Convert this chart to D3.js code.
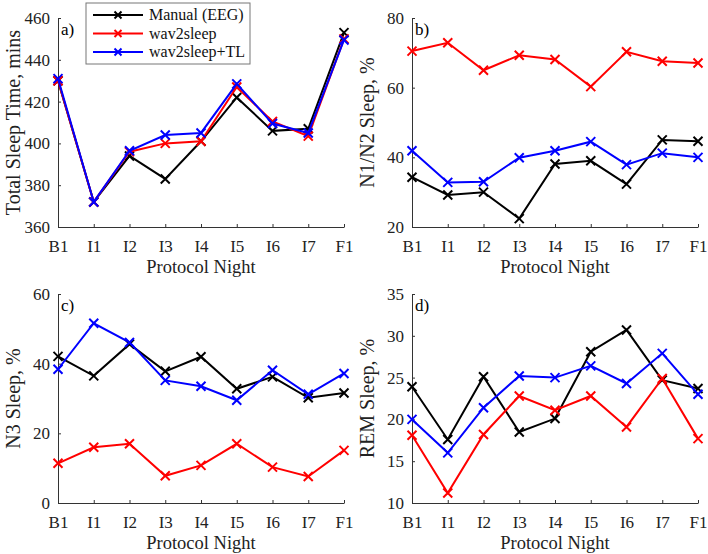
<!DOCTYPE html>
<html>
<head>
<meta charset="utf-8">
<script src="https://cdn.jsdelivr.net/npm/d3@7.9.0/dist/d3.min.js"></script>
<style>
  body { margin: 0; background: #fff; }
  svg { display: block; font-family: "Liberation Serif", "Times New Roman", serif; }
</style>
</head>
<body>
<svg id="chart" width="708" height="554"></svg>
<script>
// protocol nights (x categories)
const nights = ['B1', 'I1', 'I2', 'I3', 'I4', 'I5', 'I6', 'I7', 'F1'];

const seriesNames = ['Manual (EEG)', 'wav2sleep', 'wav2sleep+TL'];
const seriesColors = ['#000000', '#ff0000', '#0000ff'];

// a) total sleep time, mins
const tstManual = [430, 372, 394, 383, 401, 422, 406, 407, 453];
const tstW2S = [430, 372, 396, 400, 401, 427, 410.5, 403.5, 450];
const tstTL = [431, 372, 396.5, 404, 405, 428.5, 409.5, 405, 449.5];

// b) N1/N2 sleep, %
const n12Manual = [34.3, 29.2, 30.0, 22.4, 38.1, 39.0, 32.3, 45.0, 44.6];
const n12W2S = [70.5, 72.9, 65.0, 69.3, 68.1, 60.3, 70.3, 67.6, 67.1];
const n12TL = [41.9, 32.8, 33.0, 39.9, 41.9, 44.5, 37.9, 41.2, 40.0];

// c) N3 sleep, %
const n3Manual = [42.1, 36.5, 45.6, 37.8, 42.0, 32.8, 36.2, 30.2, 31.6];
const n3W2S = [11.4, 16.0, 17.0, 7.8, 10.8, 17.0, 10.3, 7.6, 15.1];
const n3TL = [38.4, 51.6, 46.1, 35.2, 33.5, 29.5, 38.1, 31.2, 37.2];

// d) REM sleep, %
const remManual = [23.9, 17.6, 25.1, 18.5, 20.1, 28.1, 30.7, 24.7, 23.7];
const remW2S = [18.1, 11.2, 18.2, 22.8, 21.1, 22.8, 19.1, 24.9, 17.7];
const remTL = [20.0, 16.0, 21.4, 25.2, 25.0, 26.4, 24.3, 27.9, 23.0];

// y ticks per panel
const tstTicks = [360, 380, 400, 420, 440, 460];
const n12Ticks = [20, 40, 60, 80];
const n3Ticks = [0, 20, 40, 60];
const remTicks = [10, 15, 20, 25, 30, 35];

const panels = [
  { tag: 'a)', ylabel: 'Total Sleep Time, mins', data: [tstManual, tstW2S, tstTL], ticks: tstTicks, x0: 58, y0: 18, legend: true },
  { tag: 'b)', ylabel: 'N1/N2 Sleep, %', data: [n12Manual, n12W2S, n12TL], ticks: n12Ticks, x0: 412, y0: 18 },
  { tag: 'c)', ylabel: 'N3 Sleep, %', data: [n3Manual, n3W2S, n3TL], ticks: n3Ticks, x0: 58, y0: 294 },
  { tag: 'd)', ylabel: 'REM Sleep, %', data: [remManual, remW2S, remTL], ticks: remTicks, x0: 412, y0: 294 }
];

const W = 286, H = 209;
const axisColor = '#333';
const svg = d3.select('#chart');

// little "x" marker path
const xMark = (s) => `M${-s},${-s}L${s},${s}M${-s},${s}L${s},${-s}`;

panels.forEach(p => {
  const g = svg.append('g').attr('transform', `translate(${p.x0},${p.y0})`);

  const x = d3.scalePoint().domain(nights).range([0, W]);
  const y = d3.scaleLinear().domain(d3.extent(p.ticks)).range([H, 0]);

  // axes, ticks pointing inward like matlab
  const xAxis = g.append('g')
    .attr('transform', `translate(0,${H})`)
    .call(d3.axisBottom(x).tickSizeInner(-3).tickSizeOuter(0).tickPadding(11));
  const yAxis = g.append('g')
    .call(d3.axisLeft(y).tickValues(p.ticks).tickSizeInner(-3).tickSizeOuter(0).tickPadding(8));

  [xAxis, yAxis].forEach(a => {
    a.select('.domain').attr('stroke', axisColor).attr('stroke-width', 1);
    a.selectAll('.tick line').attr('stroke', axisColor);
    a.selectAll('.tick text')
      .attr('fill', '#222')
      .style('font-family', '"Liberation Serif", serif')
      .style('font-size', '17px');
  });
  xAxis.selectAll('.tick text').attr('dy', '0.8em');

  // axis titles
  g.append('text')
    .attr('x', W / 2).attr('y', H + 46)
    .attr('text-anchor', 'middle')
    .attr('font-size', 18.5).attr('fill', '#222')
    .text('Protocol Night');

  g.append('text')
    .attr('transform', `translate(${-38},${H / 2}) rotate(-90)`)
    .attr('text-anchor', 'middle')
    .attr('font-size', 20).attr('fill', '#222')
    .text(p.ylabel);

  g.append('text')
    .attr('x', 3).attr('y', 17)
    .attr('font-size', 17).attr('fill', '#000')
    .text(p.tag);

  // lines + markers
  const line = d3.line().x((d, i) => x(nights[i])).y(d => y(d));
  p.data.forEach((vals, si) => {
    g.append('path')
      .datum(vals)
      .attr('d', line)
      .attr('fill', 'none')
      .attr('stroke', seriesColors[si])
      .attr('stroke-width', 2);

    g.selectAll(null)
      .data(vals)
      .join('path')
      .attr('transform', (d, i) => `translate(${x(nights[i])},${y(d)})`)
      .attr('d', xMark(4.5))
      .attr('stroke', seriesColors[si])
      .attr('stroke-width', 2);
  });

  // legend only in panel a
  if (p.legend) {
    const lg = svg.append('g').attr('transform', 'translate(86,3)');
    lg.append('rect')
      .attr('width', 164).attr('height', 61)
      .attr('fill', '#fff')
      .attr('stroke', '#777').attr('stroke-width', 1);
    seriesNames.forEach((name, i) => {
      const ly = 12 + i * 18.5;
      lg.append('line')
        .attr('x1', 7).attr('x2', 57)
        .attr('y1', ly).attr('y2', ly)
        .attr('stroke', seriesColors[i]).attr('stroke-width', 2);
      lg.append('path')
        .attr('transform', `translate(32,${ly})`)
        .attr('d', xMark(3.5))
        .attr('stroke', seriesColors[i]).attr('stroke-width', 2);
      lg.append('text')
        .attr('x', 63).attr('y', ly + 5)
        .attr('font-size', 16).attr('fill', '#111')
        .text(name);
    });
  }
});
</script>
</body>
</html>
